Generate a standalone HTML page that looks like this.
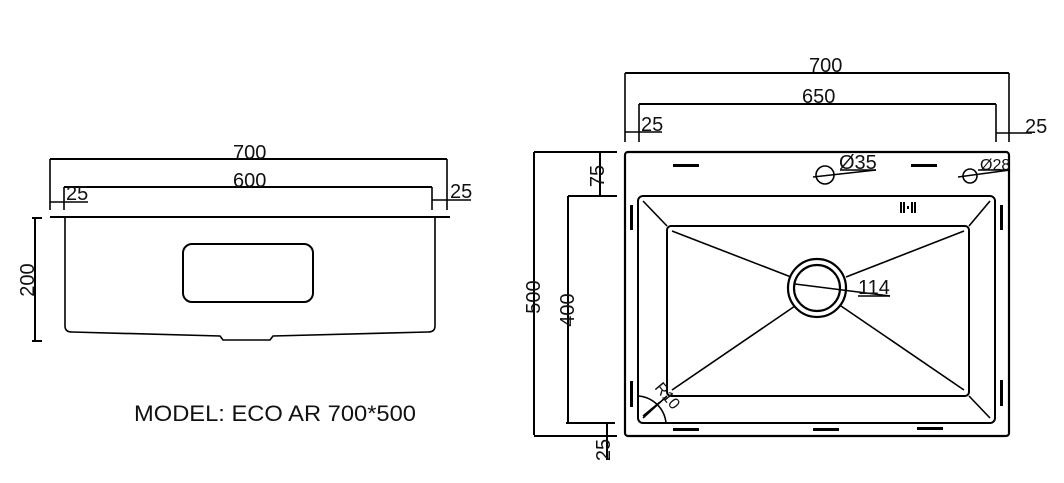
<!DOCTYPE html>
<html><head><meta charset="utf-8"><style>
html,body{margin:0;padding:0;background:#fff;}
svg{display:block;}
text{font-family:"Liberation Sans",Arial,sans-serif;fill:#111;}
</style></head><body>
<svg width="1064" height="483" viewBox="0 0 1064 483" xmlns="http://www.w3.org/2000/svg">
<g stroke="#000" fill="none" stroke-width="1.6">
<line x1="50" y1="159" x2="447" y2="159" stroke-width="2"/>
<line x1="50" y1="159" x2="50" y2="210"/>
<line x1="447" y1="159" x2="447" y2="210"/>
<line x1="64" y1="187" x2="432" y2="187" stroke-width="2"/>
<line x1="64" y1="187" x2="64" y2="210"/>
<line x1="432" y1="187" x2="432" y2="210"/>
<line x1="50" y1="202" x2="88" y2="202"/>
<line x1="432" y1="200" x2="471" y2="200"/>
<line x1="50" y1="217" x2="450" y2="217" stroke-width="2"/>
<path d="M65 217 L65 326 Q65 332 72 332 L220 336 L223 340 L270 340 L273 336 L428 332 Q435 332 435 326 L435 217"/>
<rect x="183" y="244" width="130" height="58" rx="9" stroke-width="2"/>
<line x1="35" y1="218" x2="35" y2="341" stroke-width="2"/>
<line x1="32" y1="218" x2="42" y2="218" stroke-width="2"/>
<line x1="32" y1="341" x2="42" y2="341" stroke-width="2"/>

<line x1="625" y1="73" x2="1009" y2="73" stroke-width="2"/>
<line x1="625" y1="73" x2="625" y2="142"/>
<line x1="1009" y1="73" x2="1009" y2="142"/>
<line x1="639" y1="104" x2="996" y2="104" stroke-width="2"/>
<line x1="639" y1="104" x2="639" y2="142"/>
<line x1="996" y1="104" x2="996" y2="142"/>
<line x1="625" y1="132" x2="662" y2="132"/>
<line x1="996" y1="133" x2="1032" y2="133"/>
<line x1="534" y1="152" x2="534" y2="435" stroke-width="2"/>
<line x1="534" y1="152" x2="617" y2="152" stroke-width="2"/>
<line x1="534" y1="436" x2="617" y2="436" stroke-width="2"/>
<line x1="568" y1="196" x2="568" y2="423" stroke-width="2"/>
<line x1="568" y1="196" x2="617" y2="196" stroke-width="2"/>
<line x1="566" y1="423" x2="615" y2="423" stroke-width="2"/>
<line x1="600" y1="152" x2="600" y2="196" stroke-width="2"/>
<line x1="607" y1="423" x2="607" y2="460" stroke-width="2"/>

<rect x="625" y="152" width="384" height="284" rx="3" stroke-width="2.2"/>
<rect x="638" y="196" width="357" height="227" rx="5" stroke-width="2"/>
<rect x="667" y="226" width="302" height="170" rx="4" stroke-width="2"/>
<line x1="643" y1="201" x2="667" y2="226"/>
<line x1="990" y1="201" x2="969" y2="226"/>
<line x1="643" y1="418" x2="667" y2="396"/>
<line x1="990" y1="418" x2="969" y2="396"/>
<line x1="672" y1="231" x2="791" y2="277"/>
<line x1="964" y1="231" x2="846" y2="277"/>
<line x1="672" y1="390" x2="795" y2="306"/>
<line x1="964" y1="390" x2="841" y2="306"/>
<circle cx="817" cy="288" r="29" stroke-width="2.2"/>
<circle cx="817" cy="288" r="23" stroke-width="2.2"/>
<line x1="795" y1="284" x2="890" y2="296"/>
<line x1="858" y1="296" x2="890" y2="296"/>
<path d="M638 396 A30 30 0 0 1 666 423"/>
<line x1="643" y1="416" x2="660" y2="402"/>
<circle cx="825" cy="175" r="9"/>
<line x1="813" y1="177" x2="876" y2="170"/>
<line x1="840" y1="170" x2="876" y2="170"/>
<circle cx="970" cy="176" r="7"/>
<line x1="958" y1="177" x2="1010" y2="170"/>
<line x1="978" y1="170" x2="1010" y2="170"/>
</g>
<g fill="#000">
<rect x="673" y="164" width="26" height="3"/>
<rect x="911" y="164" width="26" height="3"/>
<rect x="630" y="205" width="3" height="25"/>
<rect x="1000" y="205" width="3" height="25"/>
<rect x="630" y="381" width="3" height="26"/>
<rect x="1000" y="380" width="3" height="26"/>
<rect x="673" y="428" width="26" height="3"/>
<rect x="813" y="428" width="26" height="3"/>
<rect x="917" y="427" width="26" height="3"/>
<rect x="900" y="202" width="2" height="11"/>
<rect x="903" y="202" width="2" height="11"/>
<rect x="907" y="206" width="2" height="3"/>
<rect x="911" y="202" width="2" height="11"/>
<rect x="914" y="202" width="2" height="11"/>
</g>
<g font-size="20">
<text x="233" y="159">700</text>
<text x="233" y="187">600</text>
<text x="66" y="200">25</text>
<text x="450" y="198">25</text>
<text x="0" y="0" text-anchor="middle" transform="translate(34,280) rotate(-90)">200</text>
<text x="134" y="421" font-size="22" textLength="282" lengthAdjust="spacingAndGlyphs">MODEL: ECO AR 700*500</text>
<text x="809" y="72">700</text>
<text x="802" y="103">650</text>
<text x="641" y="131">25</text>
<text x="1025" y="133">25</text>
<text x="839" y="169">Ø35</text>
<text x="980" y="170" font-size="16">Ø28</text>
<text x="858" y="294">114</text>
<text x="0" y="0" text-anchor="middle" transform="translate(540,297) rotate(-90)">500</text>
<text x="0" y="0" text-anchor="middle" transform="translate(574,310) rotate(-90)">400</text>
<text x="0" y="0" text-anchor="middle" transform="translate(604,176) rotate(-90)">75</text>
<text x="0" y="0" text-anchor="middle" transform="translate(610,450) rotate(-90)">25</text>
<text x="0" y="0" font-size="16" transform="translate(654,388) rotate(50)">R10</text>
</g>
</svg>
</body></html>
